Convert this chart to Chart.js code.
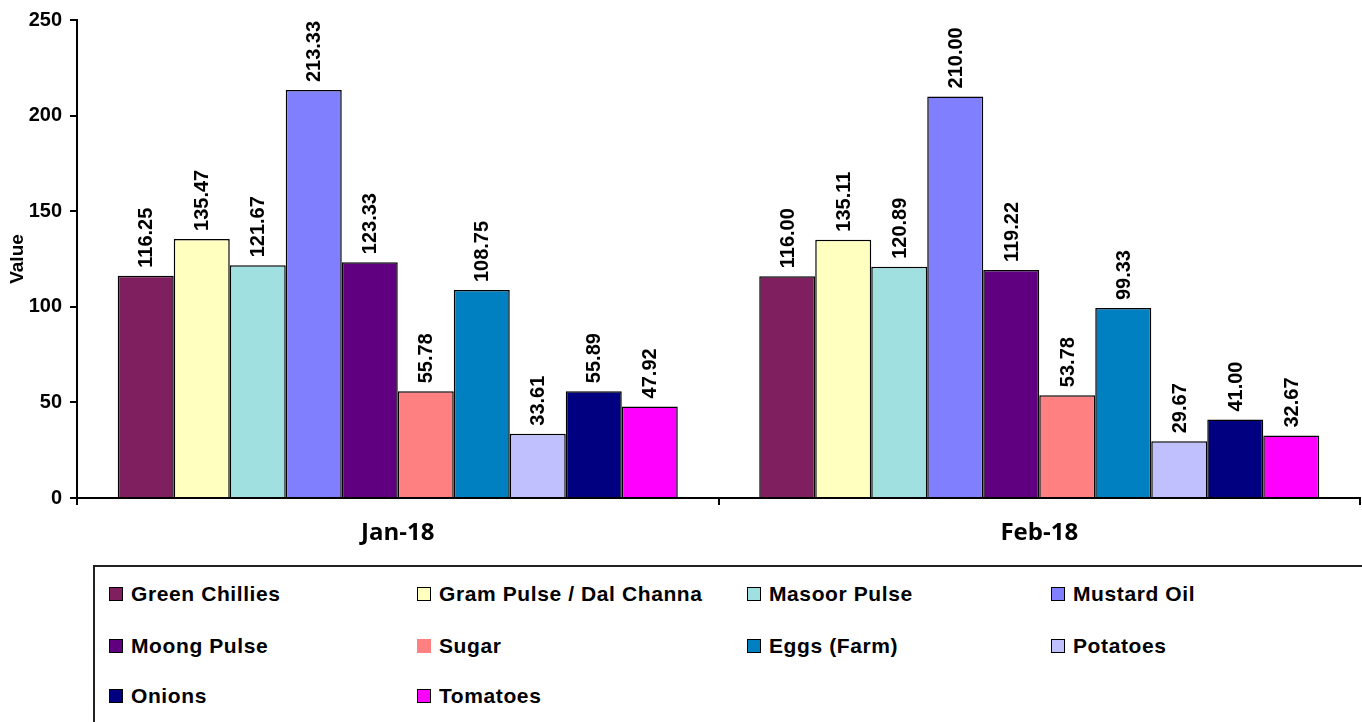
<!DOCTYPE html>
<html>
<head>
<meta charset="utf-8">
<script src="https://cdn.jsdelivr.net/npm/chart.js@4"></script>
<style>
    body { margin: 0; background: #fff; font-family: "Liberation Sans", Arial, sans-serif; }
    #wrap { position: absolute; left: 0; top: 0; width: 1362px; height: 560px; }
    #legend {
        position: absolute; left: 93px; top: 565px; width: 1300px; height: 200px;
        border: 2px solid #222; box-sizing: border-box;
    }
    .item {
        position: absolute; display: flex; align-items: center; height: 24px;
        font-weight: bold; font-size: 21px; letter-spacing: 0.6px; color: #000; white-space: nowrap;
    }
    .item .box { width: 12px; height: 12px; border: 1.5px solid #000; margin-right: 8px; }
</style>
</head>
<body>
<div id="wrap"><canvas id="myChart"></canvas></div>
<div id="legend"></div>
<script>
// Chart data
const months = ['Jan-18', 'Feb-18'];
const items = ['Green Chillies', 'Gram Pulse / Dal Channa', 'Masoor Pulse', 'Mustard Oil',
    'Moong Pulse', 'Sugar', 'Eggs (Farm)', 'Potatoes', 'Onions', 'Tomatoes'];
const janValues = [116.25, 135.47, 121.67, 213.33, 123.33, 55.78, 108.75, 33.61, 55.89, 47.92];
const febValues = [116.00, 135.11, 120.89, 210.00, 119.22, 53.78, 99.33, 29.67, 41.00, 32.67];
const yTicks = [0, 50, 100, 150, 200, 250];
const colors = ['#7F1F5F', '#FFFFC0', '#A0E0E0', '#8080FF', '#600080',
    '#FF8080', '#0080C0', '#C0C0FF', '#000080', '#FF00FF'];

// Legend layout (4 columns, 3 rows)
const legendCols = [14, 322, 652, 956];
const legendRows = [15, 67, 117];

const legendEl = document.getElementById('legend');
items.forEach((name, i) => {
    const div = document.createElement('div');
    div.className = 'item';
    div.style.left = legendCols[i % 4] + 'px';
    div.style.top = legendRows[Math.floor(i / 4)] + 'px';
    const border = name === 'Sugar' ? 'border-color:' + colors[i] + ';' : '';
    div.innerHTML = `<span class="box" style="background:${colors[i]};${border}"></span>${name}`;
    legendEl.appendChild(div);
});

// Values written above each bar, rotated
const barLabels = {
    id: 'barLabels',
    afterDatasetsDraw(chart) {
        const ctx = chart.ctx;
        ctx.save();
        ctx.font = 'bold 20px "Liberation Sans", Arial, sans-serif';
        ctx.fillStyle = '#000';
        ctx.textAlign = 'left';
        ctx.textBaseline = 'middle';
        chart.data.datasets.forEach((ds, i) => {
            chart.getDatasetMeta(i).data.forEach((bar, j) => {
                ctx.save();
                ctx.translate(bar.x + 1, bar.y - 8);
                ctx.rotate(-Math.PI / 2);
                ctx.fillText(ds.data[j].toFixed(2), 0, 0);
                ctx.restore();
            });
        });
        ctx.restore();
    }
};

const ctx = document.getElementById('myChart').getContext('2d');
const chart = new Chart(ctx, {
    type: 'bar',
    data: {
        labels: months,
        datasets: items.map((name, i) => ({
            label: name,
            data: [janValues[i], febValues[i]],
            backgroundColor: colors[i],
            borderColor: '#000',
            borderWidth: 1.5,
            categoryPercentage: 0.873,
            barPercentage: 1
        }))
    },
    options: {
        responsive: true,
        maintainAspectRatio: false,
        animation: false,
        layout: { padding: { top: 20, right: 2, left: 0, bottom: 0 } },
        plugins: {
            legend: { display: false },
            tooltip: { enabled: false }
        },
        scales: {
            x: {
                grid: { offset: true, drawOnChartArea: false, tickLength: 7, color: '#000', lineWidth: 2 },
                border: { display: true, color: '#000', width: 2 },
                ticks: {
                    color: '#000', padding: 14,
                    font: { family: '"Open Sans", sans-serif', size: 24, weight: 'bold' }
                },
                afterFit(scale) { scale.height = 62; }
            },
            y: {
                min: 0,
                max: 250,
                afterBuildTicks(scale) { scale.ticks = yTicks.map(v => ({ value: v })); },
                grid: { drawOnChartArea: false, tickLength: 7, color: '#000', lineWidth: 2 },
                border: { display: true, color: '#000', width: 2 },
                ticks: {
                    color: '#000', padding: 8,
                    font: { family: '"Liberation Sans", Arial, sans-serif', size: 20, weight: 'bold' }
                },
                title: {
                    display: true, text: 'Value', color: '#000', padding: { top: 6, bottom: 0 },
                    font: { family: '"Liberation Sans", Arial, sans-serif', size: 19, weight: 'bold' }
                },
                afterFit(scale) { scale.width = 77; }
            }
        }
    },
    plugins: [barLabels]
});
</script>
</body>
</html>
